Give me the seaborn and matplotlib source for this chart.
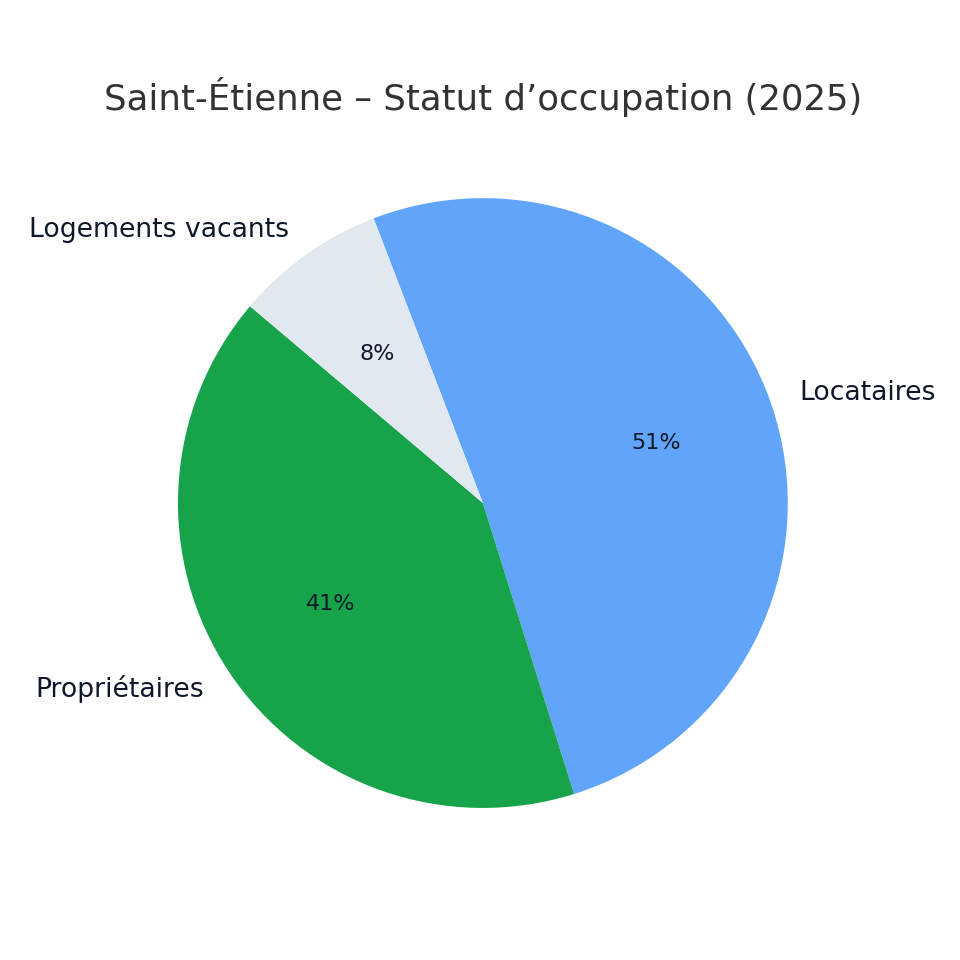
import matplotlib
matplotlib.use("Agg")
import matplotlib.pyplot as plt
import seaborn as sns

labels = ["Locataires", "Propriétaires", "Logements vacants"]
values = [51, 41, 8]
colors = ["#60a5fa", "#16a34a", "#e2e8f0"]

sns.set_theme(style="white")
plt.rcParams['font.family'] = ['DejaVu Sans']

fig = plt.figure(figsize=(9.6, 9.6), dpi=100)
ax = fig.add_axes([0.503 - 0.397, 0.476 - 0.397, 0.794, 0.794])
wedges, texts, autotexts = ax.pie(
    values, labels=labels, colors=colors, autopct="%1.0f%%",
    startangle=111, counterclock=False,
    wedgeprops={"linewidth": 0},
    textprops={"color": "#0f172a", "fontsize": 19.2},
)
for t in autotexts:
    t.set_fontsize(16)
    t.set_color("#0f172a")
ax.set_xlim(-1.25, 1.25)
ax.set_ylim(-1.25, 1.25)
ax.set_aspect("equal")
fig.text(0.503, 1 - 97 / 960, "Saint-Étienne – Statut d’occupation (2025)",
         ha="center", va="center", fontsize=25.6, color="#333333")
fig.savefig("out.png", dpi=100, facecolor="white")
